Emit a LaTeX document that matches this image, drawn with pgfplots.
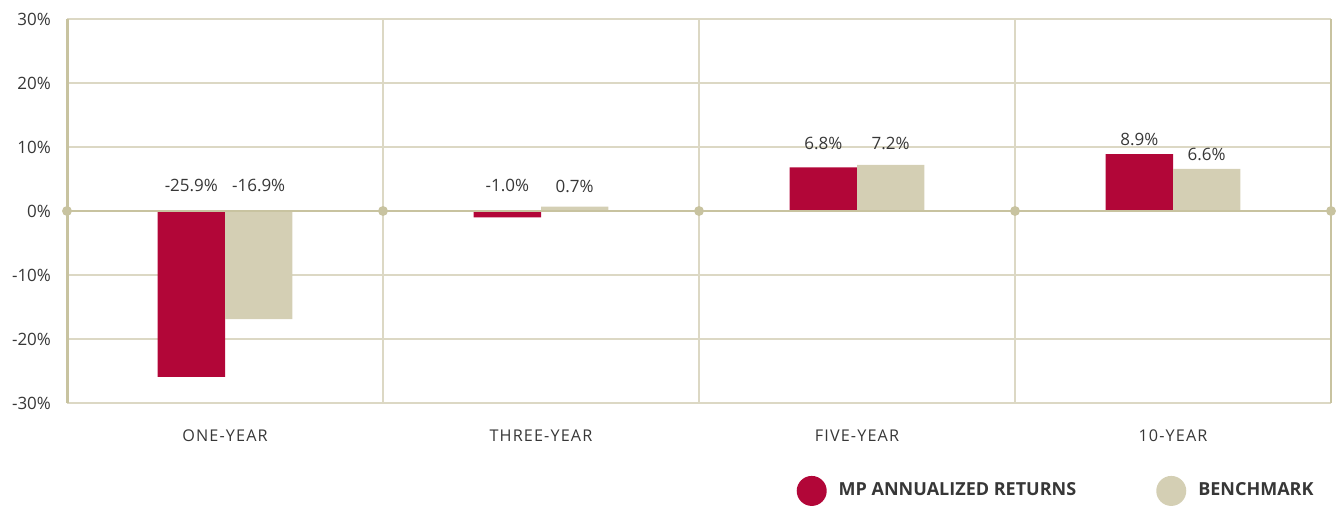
\documentclass[border=0pt]{standalone}
\usepackage{fontspec}
\setmainfont{Open Sans}
\usepackage{pgfplots}
\pgfplotsset{compat=1.18}
\definecolor{mpred}{RGB}{178,6,56}
\definecolor{bench}{RGB}{212,207,180}
\definecolor{axisc}{RGB}{200,195,160}
\definecolor{gridc}{RGB}{220,216,196}
\definecolor{txt}{RGB}{55,55,55}
\pgfplotsset{dotlegend/.style={legend image code/.code={\fill[##1] (7.5pt,0pt) circle[radius=7.5pt];}}}
\begin{document}
\begin{tikzpicture}
\begin{axis}[
  scale only axis, width=632pt, height=192pt,
  xmin=-0.5, xmax=3.5, ymin=-30, ymax=30,
  clip=false,
  axis line style={draw=none},
  xtick={0,1,2,3},
  xticklabels={ONE-YEAR,THREE-YEAR,FIVE-YEAR,10-YEAR},
  minor xtick={-0.5,0.5,1.5,2.5,3.5},
  xminorgrids=true, xmajorgrids=false,
  ytick={-30,-20,-10,0,10,20,30},
  yticklabels={-30\%,-20\%,-10\%,0\%,10\%,20\%,30\%},
  ymajorgrids=true,
  major tick length=0pt, minor tick length=0pt,
  grid style={gridc, line width=0.6pt},
  minor grid style={gridc, line width=0.6pt},
  tick label style={font=\fontsize{8.5}{10}\selectfont, text=txt},
  xticklabel style={font=\fontsize{8.1}{9.5}\selectfont\addfontfeature{LetterSpace=7}, yshift=-10pt},
  yticklabel style={xshift=-4.5pt},
  legend columns=2,
  legend cell align=left,
  legend style={draw=none, fill=none, at={(0.577,-0.229)}, anchor=west, inner sep=0pt,
    font=\fontsize{9}{11}\selectfont\bfseries, text=txt,
    /tikz/every even column/.append style={column sep=34pt},
    nodes={inner xsep=6pt}},
]
\addplot[ybar, bar width=0.213, bar shift=-0.1065, fill=mpred, draw=none, dotlegend]
  coordinates {(0,-25.9) (1,-1.0) (2,6.8) (3,8.9)};
\addlegendentry{MP ANNUALIZED RETURNS}
\addplot[ybar, bar width=0.213, bar shift=0.1065, fill=bench, draw=none, dotlegend]
  coordinates {(0,-16.9) (1,0.7) (2,7.2) (3,6.6)};
\addlegendentry{BENCHMARK}
\draw[axisc, line width=1.5pt] (axis cs:-0.5,-30) -- (axis cs:-0.5,30);
\draw[axisc, line width=1pt] (axis cs:3.5,-30) -- (axis cs:3.5,30);
\draw[axisc, line width=1.25pt] (axis cs:-0.5,0) -- (axis cs:3.5,0);
\addplot[only marks, mark=*, mark size=2.25pt, color=axisc, forget plot]
  coordinates {(-0.5,0) (0.5,0) (1.5,0) (2.5,0) (3.5,0)};
\addplot[draw=none, mark=none, forget plot, point meta=explicit symbolic,
  nodes near coords, nodes near coords style={anchor=center, font=\fontsize{8.5}{10}\selectfont, text=txt}]
  coordinates {(-0.1065,4.06)[-25.9\%] (0.1065,4.06)[-16.9\%] (0.8935,4.06)[-1.0\%] (1.1065,3.9)[0.7\%]
    (1.8935,10.5)[6.8\%] (2.1065,10.5)[7.2\%] (2.8935,11.1)[8.9\%] (3.1065,8.9)[6.6\%]};
\end{axis}
\pgfresetboundingbox
\path ([shift={(-33.5pt,-51.5pt)}]current axis.south west) rectangle ([shift={(3pt,9.5pt)}]current axis.north east);
\end{tikzpicture}
\end{document}
